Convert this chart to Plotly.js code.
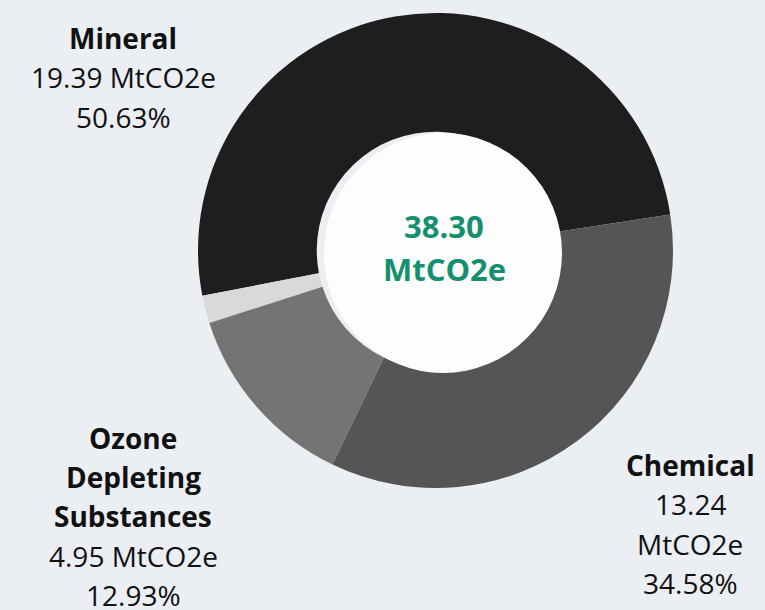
<!DOCTYPE html>
<html>
<head>
<meta charset="utf-8">
<script src="https://cdn.plot.ly/plotly-3.0.1.min.js"></script>
<style>html,body{margin:0;padding:0;background:#ebeef2;}#chart{width:765px;height:610px;}</style>
</head>
<body>
<div id="chart"></div>
<script>
const categories = ["Mineral", "Other", "Ozone Depleting Substances", "Chemical"];
const values = [19.39, 0.72, 4.95, 13.24];
const percents = ["50.63%", "1.86%", "12.93%", "34.58%"];
const colors = ["#1e1e1e", "#d9d9d9", "#747474", "#555555"];
const totalLabel = ["38.30", "MtCO2e"];
const unit = "MtCO2e";

const W = 765, H = 610;
const px = x => x / W;
const py = y => 1 - y / H;
const FONT = "Open Sans, Noto Sans, sans-serif";

const annotations = [];
function addLines(lines, x, y0, step) {
  lines.forEach((ln, i) => {
    annotations.push({
      xref: "paper", yref: "paper", x: px(x), y: py(y0 + i * step),
      xanchor: "center", yanchor: "middle", showarrow: false,
      text: ln.bold ? "<b>" + ln.t + "</b>" : ln.t,
      font: {family: FONT, size: 28, color: "#111111"}
    });
  });
}
// Mineral
addLines([{t: categories[0], bold: true}, {t: values[0].toFixed(2) + " " + unit}, {t: percents[0]}], 123, 38, 39.5);
// Ozone Depleting Substances
addLines([{t: "Ozone", bold: true}, {t: "Depleting", bold: true}, {t: "Substances", bold: true},
          {t: values[2].toFixed(2) + " " + unit}, {t: percents[2]}], 133, 438, 39.2);
// Chemical
addLines([{t: categories[3], bold: true}, {t: values[3].toFixed(2)}, {t: unit}, {t: percents[3]}], 690, 465, 39.3);

// center total
totalLabel.forEach((t, i) => {
  annotations.push({
    xref: "paper", yref: "paper", x: px(444), y: py(226 + i * 43),
    xanchor: "center", yanchor: "middle", showarrow: false,
    text: "<b>" + t + "</b>",
    font: {family: FONT, size: 31, color: "#14906f"}
  });
});

const data = [{
  type: "pie",
  labels: categories,
  values: values,
  marker: {colors: colors, line: {width: 0}},
  hole: 0.5,
  sort: false,
  direction: "counterclockwise",
  rotation: -101,
  textinfo: "none",
  hoverinfo: "label+value+percent",
  showlegend: false,
  domain: {x: [198 / W, 673 / W], y: [py(488), py(13)]}
}];

const layout = {
  width: W, height: H,
  margin: {l: 0, r: 0, t: 0, b: 0},
  paper_bgcolor: "#ebeef2",
  plot_bgcolor: "#ebeef2",
  showlegend: false,
  shapes: [{
    type: "circle", xref: "paper", yref: "paper", layer: "above",
    x0: px(324), x1: px(562), y0: py(373), y1: py(133),
    fillcolor: "#fefdfe", line: {width: 0}
  }],
  annotations: annotations
};

Plotly.newPlot("chart", data, layout, {displayModeBar: false, staticPlot: true});
</script>
</body>
</html>
